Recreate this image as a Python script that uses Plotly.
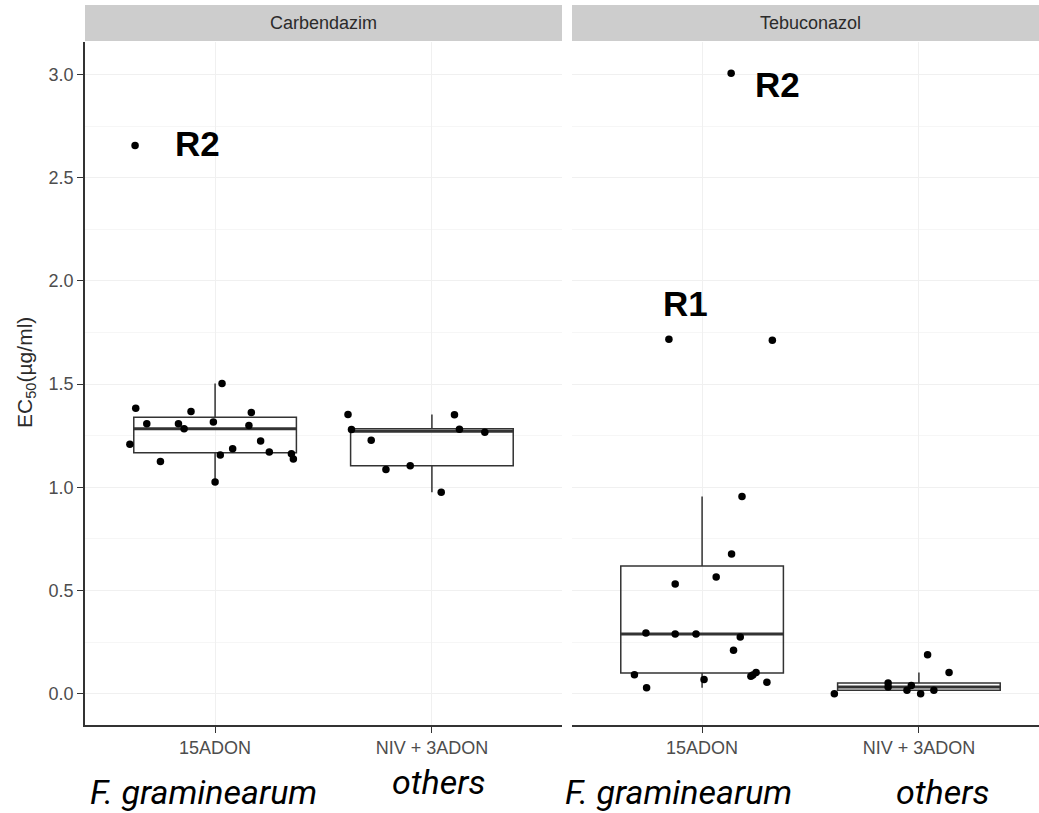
import plotly.graph_objects as go

# ---- data -------------------------------------------------------------
groups = ["15ADON", "NIV + 3ADON"]
fungicides = ["Carbendazim", "Tebuconazol"]
y_ticks = [0.0, 0.5, 1.0, 1.5, 2.0, 2.5, 3.0]
y_ticklabels = ["0.0", "0.5", "1.0", "1.5", "2.0", "2.5", "3.0"]

# EC50 values of individual isolates (µg/ml) and their jittered group position
carb_15adon = [1.208, 1.383, 1.308, 1.125, 1.308, 1.284, 1.367, 1.316, 1.503,
               1.026, 1.157, 1.187, 1.299, 1.363, 1.224, 1.171, 1.163, 1.137, 2.656]
carb_15adon_jitter = [0.607, 0.634, 0.685, 0.748, 0.831, 0.857, 0.889, 0.992, 1.032,
                      1.000, 1.024, 1.081, 1.156, 1.167, 1.210, 1.250, 1.352, 1.361, 0.631]
carb_niv = [1.353, 1.280, 1.228, 1.086, 1.104, 0.976, 1.351, 1.281, 1.267]
carb_niv_jitter = [1.613, 1.629, 1.720, 1.788, 1.900, 2.043, 2.104, 2.127, 2.244]

tebu_15adon = [0.955, 0.677, 0.565, 0.531, 0.294, 0.289, 0.289, 0.274, 0.210,
               0.092, 0.028, 0.068, 0.084, 0.103, 0.090, 0.055, 1.718, 1.713, 3.006]
tebu_15adon_jitter = [1.184, 1.136, 1.065, 0.876, 0.741, 0.876, 0.972, 1.176, 1.145,
                      0.688, 0.744, 1.009, 1.225, 1.249, 1.234, 1.299, 0.847, 1.324, 1.134]
tebu_niv = [0.000, 0.052, 0.032, 0.016, 0.039, 0.000, 0.189, 0.016, 0.103]
tebu_niv_jitter = [1.610, 1.858, 1.858, 1.945, 1.965, 2.008, 2.040, 2.069, 2.139]

# box-plot summaries per group: lower whisker, Q1, median, Q3, upper whisker
carb_lower = [1.026, 0.976]
carb_q1 = [1.168, 1.104]
carb_median = [1.284, 1.272]
carb_q3 = [1.340, 1.284]
carb_upper = [1.503, 1.353]

tebu_lower = [0.028, 0.000]
tebu_q1 = [0.100, 0.016]
tebu_median = [0.289, 0.032]
tebu_q3 = [0.619, 0.052]
tebu_upper = [0.955, 0.103]

# resistant isolate labels: (text, x, y)
carb_labels = [("R2", 0.919, 2.668)]
tebu_labels = [("R2", 1.348, 2.954), ("R1", 0.922, 1.889)]

species = ["F. graminearum", "others"]

# ---- figure -----------------------------------------------------------
W, H = 1039, 813
AXFONT = "Liberation Sans, Arial, Helvetica, sans-serif"
BOX_W = 0.75
LINE_C = "#333333"

fig = go.Figure()


def add_panel(xa, ya, lower, q1, med, q3, upper, pts):
    xpos = [1, 2]
    for i, xp in enumerate(xpos):
        fig.add_trace(go.Box(
            x=[xp], q1=[q1[i]], median=[med[i]], q3=[q3[i]],
            lowerfence=[lower[i]], upperfence=[upper[i]],
            width=BOX_W, boxpoints=False, whiskerwidth=0,
            fillcolor="rgba(255,255,255,0)",
            line=dict(color=LINE_C, width=1.5),
            xaxis=xa, yaxis=ya, showlegend=False, hoverinfo="skip"))
        # thicker median bar
        fig.add_trace(go.Scatter(
            x=[xp - BOX_W / 2, xp + BOX_W / 2], y=[med[i], med[i]],
            mode="lines", line=dict(color=LINE_C, width=3),
            xaxis=xa, yaxis=ya, showlegend=False, hoverinfo="skip"))
    for vals, jit in pts:
        fig.add_trace(go.Scatter(
            x=jit, y=vals, mode="markers",
            marker=dict(color="black", size=7.5, line=dict(width=0)),
            xaxis=xa, yaxis=ya, showlegend=False))


add_panel("x", "y", carb_lower, carb_q1, carb_median, carb_q3, carb_upper,
          [(carb_15adon, carb_15adon_jitter), (carb_niv, carb_niv_jitter)])
add_panel("x2", "y2", tebu_lower, tebu_q1, tebu_median, tebu_q3, tebu_upper,
          [(tebu_15adon, tebu_15adon_jitter), (tebu_niv, tebu_niv_jitter)])

# panel geometry in pixels
left_x0, left_x1 = 85, 562
right_x0 = 572
unit = (left_x1 - left_x0) / 2.2
right_hi = 0.4 + (W - right_x0) / unit
panel_top, panel_bot = 42, 725
strip_top, strip_bot = 5, 41

ydom = [(H - panel_bot) / H, (H - panel_top) / H]
yrange = [-0.152, 3.158]

grid_major = "#F0F0F0"
grid_minor = "#F6F6F6"

common_x = dict(
    tickmode="array", tickvals=[1, 2], ticktext=groups,
    showgrid=True, gridcolor=grid_major, gridwidth=1,
    zeroline=False, showline=True, linecolor=LINE_C, linewidth=1.6,
    ticks="outside", ticklen=6, tickwidth=1.3, tickcolor=LINE_C,
    tickfont=dict(family=AXFONT, size=18, color="#4D4D4D"),
    fixedrange=True,
)
fig.update_layout(
    xaxis=dict(domain=[left_x0 / W, left_x1 / W], range=[0.4, 2.6], **common_x),
    xaxis2=dict(domain=[right_x0 / W, 1.0], range=[0.4, right_hi], anchor="y2", **common_x),
    yaxis=dict(
        domain=ydom, range=yrange, tickmode="array",
        tickvals=y_ticks, ticktext=y_ticklabels,
        showgrid=True, gridcolor=grid_major, gridwidth=1,
        minor=dict(tickvals=[0.25, 0.75, 1.25, 1.75, 2.25, 2.75],
                   showgrid=True, gridcolor=grid_minor, gridwidth=1, ticks=""),
        zeroline=False, showline=True, linecolor=LINE_C, linewidth=1.6,
        ticks="outside", ticklen=6, tickwidth=1.3, tickcolor=LINE_C,
        tickfont=dict(family=AXFONT, size=18, color="#4D4D4D"),
        fixedrange=True,
    ),
    yaxis2=dict(
        domain=ydom, range=yrange, anchor="x2", matches="y",
        tickmode="array", tickvals=y_ticks, showticklabels=False,
        showgrid=True, gridcolor=grid_major, gridwidth=1,
        minor=dict(tickvals=[0.25, 0.75, 1.25, 1.75, 2.25, 2.75],
                   showgrid=True, gridcolor=grid_minor, gridwidth=1, ticks=""),
        zeroline=False, showline=False, ticks="", fixedrange=True,
    ),
    width=W, height=H,
    margin=dict(l=0, r=0, t=0, b=0),
    paper_bgcolor="white", plot_bgcolor="white",
    boxmode="overlay", showlegend=False,
)

# facet strips
for xref in ["x domain", "x2 domain"]:
    fig.add_shape(type="rect", xref=xref, yref="paper",
                  x0=0, x1=1, y0=(H - strip_bot) / H, y1=(H - strip_top) / H,
                  fillcolor="#CDCDCD", line=dict(width=0), layer="below")

strip_y = (H - (strip_top + strip_bot) / 2) / H
for xr, name in [("x", fungicides[0]), ("x2", fungicides[1])]:
    fig.add_annotation(text=name, xref=xr, yref="paper", x=1.5, y=strip_y,
                       xanchor="center", yanchor="middle", showarrow=False,
                       font=dict(family=AXFONT, size=18, color="#2B2B2B"))

# y-axis title
fig.add_annotation(text="EC<sub>50</sub>(µg/ml)", xref="paper", yref="paper",
                   x=26 / W, y=(H - 373) / H, textangle=-90, showarrow=False,
                   xanchor="center", yanchor="middle",
                   font=dict(family=AXFONT, size=21, color="#2B2B2B"))

# resistant isolate labels
for xr, yr, labels in [("x", "y", carb_labels), ("x2", "y2", tebu_labels)]:
    for txt, lx, ly in labels:
        fig.add_annotation(text=f"<b>{txt}</b>", xref=xr, yref=yr, x=lx, y=ly,
                           xanchor="center", yanchor="middle", showarrow=False,
                           font=dict(family=AXFONT, size=35, color="black"))

# species names under the group labels
sp_font = dict(family="Roboto, sans-serif", size=34, color="black", style="italic")
species_pos = [
    (species[0], 203, 792),
    (species[1], 438, 782),
    (species[0], 678, 792),
    (species[1], 942, 792),
]
for txt, px, py in species_pos:
    fig.add_annotation(text=txt, xref="paper", yref="paper",
                       x=px / W, y=(H - py) / H, xanchor="center", yanchor="middle",
                       showarrow=False, font=sp_font)

fig.write_html("out.html")
